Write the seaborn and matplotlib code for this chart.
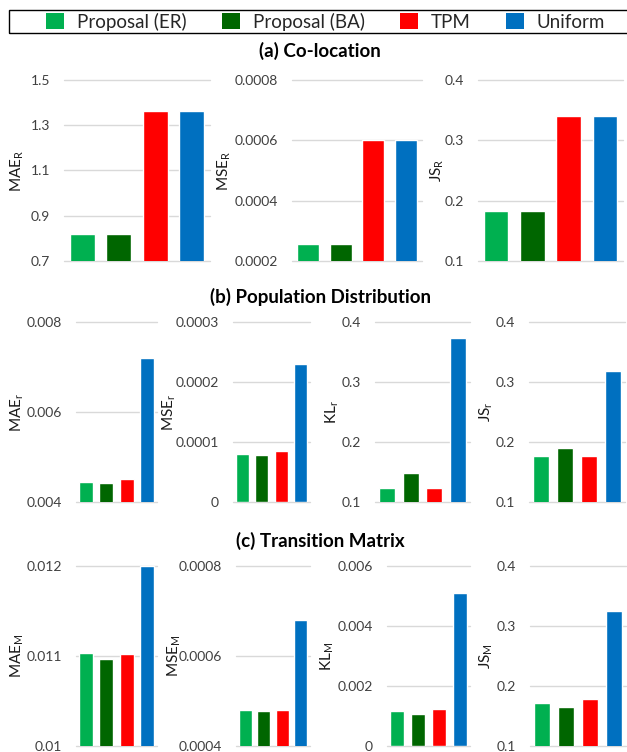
import matplotlib
matplotlib.use("Agg")
import matplotlib.pyplot as plt
from matplotlib.patches import Patch, Rectangle
import seaborn as sns
import pandas as pd

# ---- data -------------------------------------------------------------
methods = ["Proposal (ER)", "Proposal (BA)", "TPM", "Uniform"]
colors = ["#00B050", "#006600", "#FF0000", "#0070C0"]

# (a) Co-location
coloc_mae = [0.819, 0.819, 1.363, 1.363]
coloc_mse = [0.000256, 0.000256, 0.0006, 0.0006]
coloc_js = [0.183, 0.183, 0.340, 0.340]

# (b) Population distribution
pop_mae = [0.00445, 0.00443, 0.00451, 0.0072]
pop_mse = [0.0000805, 0.0000788, 0.000085, 0.00023]
pop_kl = [0.124, 0.148, 0.124, 0.374]
pop_js = [0.176, 0.190, 0.176, 0.319]

# (c) Transition matrix
trans_mae = [0.01103, 0.01097, 0.01102, 0.0120]
trans_mse = [0.000481, 0.000477, 0.000479, 0.000679]
trans_kl = [0.00117, 0.00107, 0.00123, 0.0051]
trans_js = [0.172, 0.165, 0.178, 0.325]

# y-axis ticks and their printed labels
ticks_coloc_mae = [0.7, 0.9, 1.1, 1.3, 1.5]
labels_coloc_mae = ["0.7", "0.9", "1.1", "1.3", "1.5"]
ticks_coloc_mse = [0.0002, 0.0004, 0.0006, 0.0008]
labels_coloc_mse = ["0.0002", "0.0004", "0.0006", "0.0008"]
ticks_js = [0.1, 0.2, 0.3, 0.4]
labels_js = ["0.1", "0.2", "0.3", "0.4"]
ticks_pop_mae = [0.004, 0.006, 0.008]
labels_pop_mae = ["0.004", "0.006", "0.008"]
ticks_pop_mse = [0.0, 0.0001, 0.0002, 0.0003]
labels_pop_mse = ["0", "0.0001", "0.0002", "0.0003"]
ticks_trans_mae = [0.010, 0.011, 0.012]
labels_trans_mae = ["0.01", "0.011", "0.012"]
ticks_trans_mse = [0.0004, 0.0006, 0.0008]
labels_trans_mse = ["0.0004", "0.0006", "0.0008"]
ticks_trans_kl = [0.0, 0.002, 0.004, 0.006]
labels_trans_kl = ["0", "0.002", "0.004", "0.006"]

section_titles = ["(a) Co-location", "(b) Population Distribution", "(c) Transition Matrix"]

# ---- figure -----------------------------------------------------------
W, H = 627, 752
sns.set_style("white")
plt.rcParams["font.family"] = ["Lato", "DejaVu Sans"]

fig = plt.figure(figsize=(W / 100, H / 100), dpi=100)
palette = dict(zip(methods, colors))


def sub(name, s):
    return name + r"$_{\mathregular{" + s + "}}$"


# each panel: values, ticks, tick labels, y label, label x (px), box (left, top, right, bottom) in px
panels = [
    (coloc_mae, ticks_coloc_mae, labels_coloc_mae, sub("MAE", "R"), 17, (64, 80, 210, 261)),
    (coloc_mse, ticks_coloc_mse, labels_coloc_mse, sub("MSE", "R"), 224, (292, 80, 422, 261)),
    (coloc_js, ticks_js, labels_js, sub("JS", "R"), 437, (478, 80, 623, 261)),
    (pop_mae, ticks_pop_mae, labels_pop_mae, sub("MAE", "r"), 17, (76, 322, 157, 502)),
    (pop_mse, ticks_pop_mse, labels_pop_mse, sub("MSE", "r"), 169, (233, 322, 310, 502)),
    (pop_kl, ticks_js, labels_js, sub("KL", "r"), 332, (375, 322, 470, 502)),
    (pop_js, ticks_js, labels_js, sub("JS", "r"), 486, (529, 322, 625, 502)),
    (trans_mae, ticks_trans_mae, labels_trans_mae, sub("MAE", "M"), 17, (76, 566, 157, 746)),
    (trans_mse, ticks_trans_mse, labels_trans_mse, sub("MSE", "M"), 174, (236, 566, 310, 746)),
    (trans_kl, ticks_trans_kl, labels_trans_kl, sub("KL", "M"), 327, (387, 566, 470, 746)),
    (trans_js, ticks_js, labels_js, sub("JS", "M"), 486, (530, 566, 626, 746)),
]

for vals, ticks, tlabels, ylabel, lx, (l, t, r, b) in panels:
    ax = fig.add_axes([l / W, 1 - b / H, (r - l) / W, (b - t) / H])
    df = pd.DataFrame({"method": methods, "value": vals})
    sns.barplot(data=df, x="method", y="value", hue="method", palette=palette,
                width=0.68, saturation=1, legend=False, ax=ax)
    ax.set_xlim(-0.5, 3.5)
    ax.set_ylim(ticks[0], ticks[-1])
    ax.set_yticks(ticks)
    ax.set_yticklabels(tlabels)
    ax.set_xticks([])
    ax.set_xlabel("")
    ax.set_ylabel(ylabel, fontsize=11, color="#1a1a1a", ha="center", va="center")
    ax.yaxis.set_label_coords((lx - l) / (r - l), 0.5)
    ax.tick_params(axis="y", length=0, pad=10, labelsize=10, labelcolor="#404040")
    for s in ax.spines.values():
        s.set_visible(False)
    ax.grid(axis="y", color="#D9D9D9", lw=1)
    for gl in ax.get_ygridlines():
        gl.set_clip_on(False)
    ax.set_axisbelow(True)

# section headings
for title, ty in zip(section_titles, [51, 297, 541]):
    fig.text(320 / W, 1 - ty / H, title, ha="center", va="center",
             fontsize=13.5, fontweight="bold", color="black")

# legend strip across the top
handles = [Patch(facecolor=c, edgecolor="none", label=m) for m, c in zip(methods, colors)]
fig.legend(handles=handles, ncol=4, loc="center left",
           bbox_to_anchor=(46 / W, 1 - 21.5 / H), frameon=False, borderpad=0,
           fontsize=13.5, handlelength=0.97, handleheight=0.97,
           handletextpad=0.7, columnspacing=1.85, borderaxespad=0)
fig.patches.append(Rectangle((9 / W, 1 - 33 / H), 700 / W, 23 / H,
                             transform=fig.transFigure, fill=False,
                             edgecolor="black", lw=1.0, clip_on=False))

fig.savefig("out.png", dpi=100)
